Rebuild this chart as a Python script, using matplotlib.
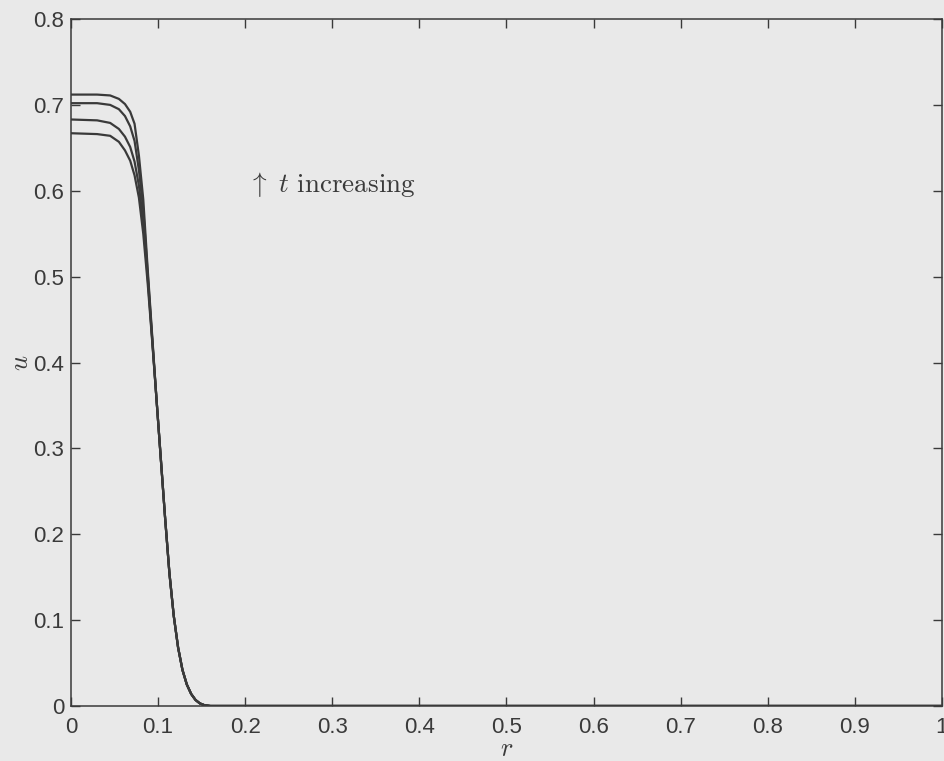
import matplotlib
matplotlib.use("Agg")
import matplotlib.pyplot as plt

# ----- DATA -----

# radial positions of the sampled profile points
r = [0.0, 0.03, 0.045, 0.055, 0.062, 0.068, 0.073, 0.078, 0.083, 0.088,
     0.093, 0.098, 0.103, 0.108, 0.113, 0.118, 0.123, 0.128, 0.133, 0.138,
     0.143, 0.148, 0.153, 0.16, 0.2, 1.0]

# common tail of all profiles (r >= 0.098)
tail = [0.36, 0.29, 0.22, 0.155, 0.105, 0.068, 0.042, 0.025, 0.014,
        0.007, 0.003, 0.001, 0.0, 0.0, 0.0]

# u(r) at four successive times, latest first
u_t4 = [0.712, 0.712, 0.711, 0.707, 0.701, 0.692, 0.678, 0.641, 0.590, 0.510, 0.435] + tail
u_t3 = [0.702, 0.702, 0.700, 0.695, 0.687, 0.675, 0.658, 0.624, 0.578, 0.505, 0.432] + tail
u_t2 = [0.683, 0.682, 0.679, 0.672, 0.663, 0.651, 0.634, 0.606, 0.563, 0.500, 0.430] + tail
u_t1 = [0.667, 0.666, 0.664, 0.657, 0.647, 0.635, 0.618, 0.592, 0.550, 0.493, 0.428] + tail

profiles = [u_t4, u_t3, u_t2, u_t1]

xticks = [0, 0.1, 0.2, 0.3, 0.4, 0.5, 0.6, 0.7, 0.8, 0.9, 1]
xticklabels = ["0", "0.1", "0.2", "0.3", "0.4", "0.5", "0.6", "0.7", "0.8", "0.9", "1"]
yticks = [0, 0.1, 0.2, 0.3, 0.4, 0.5, 0.6, 0.7, 0.8]
yticklabels = ["0", "0.1", "0.2", "0.3", "0.4", "0.5", "0.6", "0.7", "0.8"]

# ----- PLOT -----

plt.rcParams["mathtext.fontset"] = "cm"
plt.rcParams["font.family"] = ["Liberation Sans", "DejaVu Sans"]

bg = "#e9e9e9"
ink = "#3a3a3a"

fig = plt.figure(figsize=(9.45, 7.61), dpi=100, facecolor=bg)
ax = fig.add_axes([0.0751, 0.0723, 0.9217, 0.9027], facecolor=bg)

for u in profiles:
    ax.plot(r, u, color=ink, linewidth=1.6)

ax.set_xlim(0, 1)
ax.set_ylim(0, 0.8)
ax.set_xticks(xticks)
ax.set_xticklabels(xticklabels)
ax.set_yticks(yticks)
ax.set_yticklabels(yticklabels)
ax.tick_params(direction="in", length=6.5, width=1, colors=ink,
               top=True, right=True, labelsize=16)
ax.tick_params(axis="x", pad=8)
ax.tick_params(axis="y", pad=5)
for s in ax.spines.values():
    s.set_color(ink)
    s.set_linewidth(1.1)

ax.set_xlabel(r"$r$", fontsize=19, color=ink, labelpad=-1)
ax.set_ylabel(r"$u$", fontsize=19, color=ink, labelpad=0)

ax.text(0.203, 0.607, r"$\uparrow\ t\ \mathrm{increasing}$", fontsize=19.5,
        color=ink, va="center", ha="left")

fig.savefig("out.png", dpi=100, facecolor=bg)
